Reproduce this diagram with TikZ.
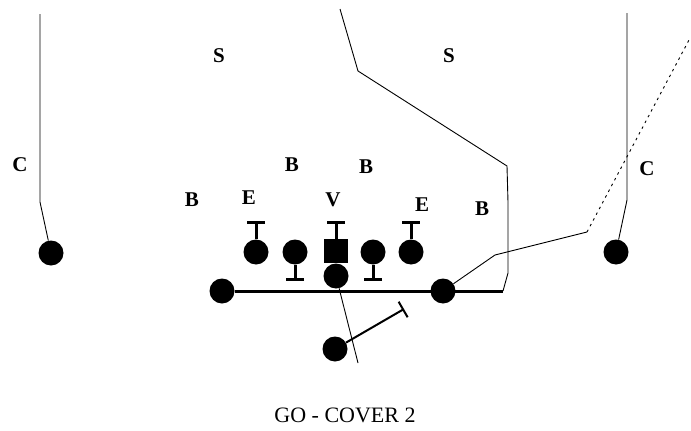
\documentclass[tikz,border=0pt]{standalone}
\usepackage{fontspec}
\setmainfont{Liberation Serif}
\usetikzlibrary{arrows.meta, positioning}

\begin{document}
\begin{tikzpicture}[x=1pt, y=-1pt, player/.style={circle, fill, minimum size=25pt, inner sep=0pt},
		snapper/.style={rectangle, fill, minimum size=24pt, inner sep=0pt},
		defender/.style={font=\fontsize{21}{21}\selectfont\bfseries, inner sep=0pt},
		route/.style={line width=0.9pt},
		blk/.style={line width=3pt, -{Bar[width=18pt]}}]

		\useasboundingbox (0,0) rectangle (691,431);

		% offense
		\node[player] (wrl) at (51,253) {};
		\node[player] (wrr) at (616,252) {};
		\node[player] (lt) at (222,291) {};
		\node[player] (rt) at (443,291) {};
		\node[player] (ball) at (336,276) {};
		\node[player] (qb) at (335,349) {};
		\node[player] (g1) at (256,252) {};
		\node[player] (g2) at (295,252) {};
		\node[snapper] (c) at (336,251) {};
		\node[player] (g3) at (373,252) {};
		\node[player] (g4) at (411,252) {};

		% defense
		\node[defender] (cl) at (20,165) {C};
		\node[defender] (sl) at (219,56) {S};
		\node[defender] (sr) at (449,56) {S};
		\node[defender] (cr) at (647,169) {C};
		\node[defender] (b1) at (192,200) {B};
		\node[defender] (b2) at (292,165) {B};
		\node[defender] (b3) at (366,167) {B};
		\node[defender] (b4) at (482,209) {B};
		\node[defender] (e1) at (249,198) {E};
		\node[defender] (v) at (333,200) {V};
		\node[defender] (e2) at (422,205) {E};

		\node[font=\fontsize{22}{22}\selectfont, inner sep=0pt, anchor=base] (title) at (345,422) {GO - COVER 2};

		% block ends
		\coordinate (t1) at (256,221);
		\coordinate (t2) at (295,281);
		\coordinate (t3) at (336,221);
		\coordinate (t4) at (373,281);
		\coordinate (t5) at (411,221);
		\coordinate (qbx) at (404,309);
		\coordinate (losend) at (503,291);
		\coordinate (snap) at (358,363);

		\draw[line width=3pt] (lt) -- (losend);

		\path[blk]
		(g1) edge (t1)
		(g2) edge (t2)
		(c) edge (t3)
		(g3) edge (t4)
		(g4) edge (t5);
		\draw[blk, line width=2pt] (qb) -- (qbx);

		% routes
		\draw[route] (ball) -- (snap);
		\draw[route] (wrl) -- (40,202) -- (40,14);
		\draw[route] (wrr) -- (627,200) -- (627,13);
		\draw[route] (losend) -- (508,273) -- (508,202) -- (507,166) -- (358,71) -- (340,9);
		\draw[route] (rt) -- (495,255) -- (587,232);
		\draw[route, dash pattern=on 2.5pt off 4pt] (587,232) -- (689,40);

		\end{tikzpicture}
\end{document}
